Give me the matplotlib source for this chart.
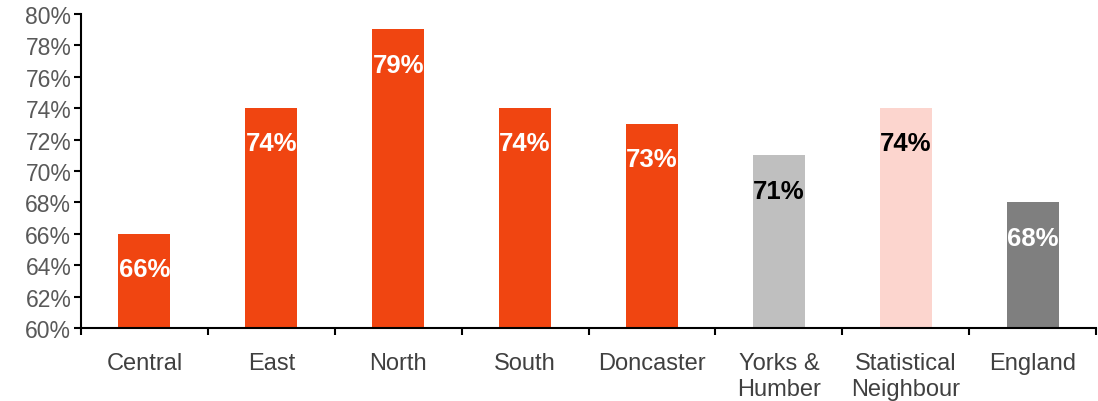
import matplotlib
matplotlib.use("Agg")
import matplotlib.pyplot as plt
from matplotlib.ticker import FixedLocator, PercentFormatter

categories = ["Central", "East", "North", "South", "Doncaster", "Yorks &\nHumber", "Statistical\nNeighbour", "England"]
values = [66, 74, 79, 74, 73, 71, 74, 68]
bar_colors = ["#F04511", "#F04511", "#F04511", "#F04511", "#F04511", "#BFBFBF", "#FCD5CE", "#7F7F7F"]
label_colors = ["white", "white", "white", "white", "white", "black", "black", "white"]
yticks = list(range(60, 81, 2))

plt.rcParams['font.family'] = ['Liberation Sans', 'DejaVu Sans']

fig = plt.figure(figsize=(10.98, 4.02), dpi=100)
ax = fig.add_axes([0.0738, 0.1808, 0.9244, 0.7826])

x = list(range(len(categories)))
ax.bar(x, values, width=0.41, color=bar_colors, zorder=2)
for xi, v, c in zip(x, values, label_colors):
    ax.text(xi, v - 2.25, f"{v}%", ha='center', va='center', color=c,
            fontsize=18.5, fontweight='bold', zorder=3)

ax.set_xlim(-0.5, len(categories) - 0.5)
ax.set_ylim(60, 80)
ax.set_yticks(yticks)
ax.yaxis.set_major_formatter(PercentFormatter(decimals=0))
ax.set_xticks(x)
ax.set_xticklabels(categories)
ax.xaxis.set_minor_locator(FixedLocator([i - 0.5 for i in range(len(categories) + 1)]))

for s in ['top', 'right']:
    ax.spines[s].set_visible(False)
ax.spines['left'].set_linewidth(1.5)
ax.spines['bottom'].set_linewidth(1.5)

ax.tick_params(axis='y', labelsize=16.5, colors='black', labelcolor='#595959', length=5, width=1.5, pad=2)
ax.tick_params(axis='x', which='major', length=0, labelsize=17, labelcolor='#404040', pad=17)
ax.tick_params(axis='x', which='minor', length=5, width=1.5, color='black')
for lbl in ax.get_xticklabels():
    lbl.set_linespacing(1.25)

fig.savefig("out.png", dpi=100)
